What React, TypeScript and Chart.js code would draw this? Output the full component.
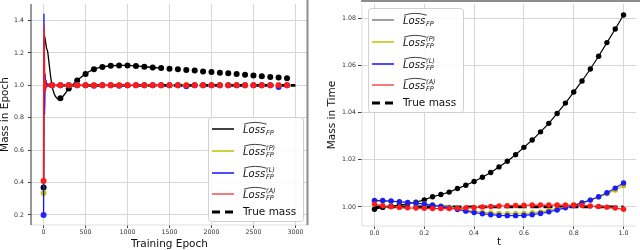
import React, { useEffect, useRef } from "react";
import { Chart, registerables } from "chart.js";
Chart.register(...registerables);

const FONT = '"DejaVu Sans", sans-serif';

// ---------- Left chart: mass vs training epoch ----------
const EPOCH_TICKS = [0, 500, 1000, 1500, 2000, 2500, 3000];
const MASS_EPOCH_TICKS = [0.2, 0.4, 0.6, 0.8, 1.0, 1.2, 1.4];
const MARKER_EPOCHS = [0, 100, 200, 300, 400, 500, 600, 700, 800, 900, 1000, 1100, 1200, 1300, 1400, 1500, 1600, 1700, 1800, 1900, 2000, 2100, 2200, 2300, 2400, 2500, 2600, 2700, 2800, 2900];
const FP_MARKERS = [0.37, 1.0, 0.92, 0.98, 1.03, 1.07, 1.1, 1.113, 1.121, 1.123, 1.123, 1.12, 1.115, 1.11, 1.107, 1.103, 1.099, 1.095, 1.091, 1.086, 1.082, 1.078, 1.074, 1.07, 1.066, 1.06, 1.056, 1.052, 1.048, 1.044];
const FP_P_MARKERS = [0.335, 1.0, 1.0, 1.0, 1.0, 1.0, 1.0, 1.0, 1.0, 1.0, 1.0, 1.0, 1.0, 1.0, 1.0, 1.0, 1.0, 1.0, 1.0, 1.0, 1.0, 1.0, 1.0, 1.0, 1.0, 1.0, 1.0, 1.0, 1.0, 1.0];
const FP_L_MARKERS = [0.2, 1.0, 1.0, 1.0, 1.0, 1.0, 0.997, 1.0, 1.0, 0.997, 1.0, 1.0, 1.0, 1.0, 1.0, 1.0, 1.0, 0.995, 1.0, 1.0, 1.0, 1.0, 1.0, 1.0, 1.0, 1.0, 1.0, 1.0, 0.99, 1.0];
const FP_A_MARKERS = [0.41, 1.0, 1.0, 1.0, 1.0, 1.0, 1.0, 1.0, 1.0, 1.0, 1.0, 1.0, 1.0, 1.0, 1.0, 1.0, 1.0, 1.0, 1.0, 1.0, 1.0, 1.0, 1.0, 1.0, 1.0, 1.0, 1.0, 1.0, 1.0, 1.0];
const FP_LINE = [[0, 0.37], [8, 1.31], [20, 1.28], [35, 1.23], [48, 1.21], [60, 1.16], [80, 1.07], [100, 1.0], [125, 0.95], [150, 0.925], [180, 0.913], [210, 0.92], [250, 0.945], [300, 0.98], [350, 1.005], [400, 1.03], [450, 1.052], [500, 1.07], [550, 1.087], [600, 1.1], [700, 1.113], [800, 1.121], [900, 1.123], [1000, 1.123], [1100, 1.12], [1200, 1.115], [1300, 1.11], [1400, 1.107]];
const FP_P_LINE = [[0, 0.335], [5, 1.3], [10, 1.05], [18, 0.97], [28, 1.01], [45, 1.0], [1400, 1.0]];
const FP_L_LINE = [[0, 0.2], [4, 1.44], [8, 1.0], [13, 0.82], [19, 1.07], [25, 0.97], [31, 1.03], [38, 0.99], [48, 1.01], [65, 1.0], [1400, 1.0]];
const FP_A_LINE = [[0, 0.41], [5, 1.37], [10, 1.1], [15, 0.96], [22, 1.03], [30, 0.99], [42, 1.0], [1400, 1.0]];
const TRUE_MASS_EPOCH = [[0, 1.0], [3000, 1.0]];

// ---------- Right chart: mass vs time ----------
const T_TICKS = [0, 0.2, 0.4, 0.6, 0.8, 1.0];
const MASS_TIME_TICKS = [1.0, 1.02, 1.04, 1.06, 1.08];
const T_VALUES = [0, 0.0333, 0.0667, 0.1, 0.1333, 0.1667, 0.2, 0.2333, 0.2667, 0.3, 0.3333, 0.3667, 0.4, 0.4333, 0.4667, 0.5, 0.5333, 0.5667, 0.6, 0.6333, 0.6667, 0.7, 0.7333, 0.7667, 0.8, 0.8333, 0.8667, 0.9, 0.9333, 0.9667, 1.0];
const T_FP = [0.999, 0.9998, 1.0003, 1.0008, 1.0013, 1.002, 1.003, 1.0043, 1.0053, 1.0063, 1.0078, 1.0092, 1.0108, 1.0126, 1.0146, 1.017, 1.0194, 1.0222, 1.0253, 1.0284, 1.0319, 1.0355, 1.0397, 1.0441, 1.0488, 1.0535, 1.0586, 1.064, 1.0698, 1.0756, 1.0815];
const T_FP_P = [1.0024, 1.0024, 1.0023, 1.0021, 1.0019, 1.0016, 1.0013, 1.0009, 1.0004, 0.9999, 0.9993, 0.9987, 0.9982, 0.9977, 0.9974, 0.9972, 0.9971, 0.9971, 0.9972, 0.9975, 0.9979, 0.9985, 0.9992, 1.0, 1.0009, 1.0019, 1.003, 1.0042, 1.0056, 1.0072, 1.0091];
const T_FP_L = [1.0028, 1.0027, 1.0025, 1.0022, 1.0019, 1.0016, 1.0012, 1.0007, 1.0002, 0.9996, 0.9989, 0.9982, 0.9976, 0.9971, 0.9967, 0.9964, 0.9963, 0.9963, 0.9964, 0.9967, 0.9972, 0.9979, 0.9987, 0.9996, 1.0006, 1.0017, 1.0029, 1.0043, 1.006, 1.008, 1.0102];
const T_FP_A = [1.0012, 1.0005, 1.0001, 0.9998, 0.9996, 0.9995, 0.9994, 0.9993, 0.9993, 0.9993, 0.9994, 0.9996, 0.9998, 1.0, 1.0002, 1.0004, 1.0005, 1.0006, 1.0007, 1.0008, 1.0008, 1.0008, 1.0008, 1.0008, 1.0007, 1.0006, 1.0004, 1.0002, 0.9999, 0.9995, 0.999];
const T_TRUE = [1.0, 1.0, 1.0, 1.0, 1.0, 1.0, 1.0, 1.0, 1.0, 1.0, 1.0, 1.0, 1.0, 1.0, 1.0, 1.0, 1.0, 1.0, 1.0, 1.0, 1.0, 1.0, 1.0, 1.0, 1.0, 1.0, 1.0, 1.0, 1.0, 1.0, 1.0];

const LEGEND_SUPS = ["", "(P)", "(L)", "(A)"];

const C_BLACK = "#000000";
const C_YELLOW = "#bfbf00";
const C_BLUE = "#1010ff";
const C_RED = "#ff1a1a";
const GRID = "#d6d6d6";

const pairs = (arr: number[][]) => arr.map(([x, y]) => ({ x, y }));
const zip = (xs: number[], ys: number[]) => xs.map((x, i) => ({ x, y: ys[i] }));

function drawLossLabel(ctx: CanvasRenderingContext2D, x: number, base: number, sup: string) {
  ctx.fillStyle = "#111";
  ctx.textAlign = "left";
  ctx.textBaseline = "alphabetic";
  ctx.font = `italic 10px ${FONT}`;
  ctx.fillText("Loss", x, base);
  const w = ctx.measureText("Loss").width;
  ctx.strokeStyle = "#111";
  ctx.lineWidth = 0.8;
  ctx.setLineDash([]);
  ctx.beginPath();
  ctx.moveTo(x + 1, base - 8.3);
  ctx.quadraticCurveTo(x + w / 2 + 1, base - 12, x + w + 1.5, base - 8.3);
  ctx.stroke();
  ctx.font = `italic 6.5px ${FONT}`;
  ctx.fillText("FP", x + w + 1, base + 2.5);
  if (sup) ctx.fillText(sup, x + w + 1, base - 5);
}

function drawLegend(ctx: CanvasRenderingContext2D, x0: number, y0: number, firstColor: string) {
  const w = 95, h = 104;
  ctx.save();
  ctx.fillStyle = "rgba(255,255,255,0.85)";
  ctx.strokeStyle = "#d0d0d0";
  ctx.lineWidth = 1;
  ctx.beginPath();
  (ctx as any).roundRect(x0 + 0.5, y0 + 0.5, w, h, 3);
  ctx.fill();
  ctx.stroke();
  const rows = [12, 34, 56, 77, 95];
  const colors = [firstColor, C_YELLOW, C_BLUE, "#f05050"];
  for (let i = 0; i < 4; i++) {
    const ry = y0 + rows[i];
    ctx.strokeStyle = colors[i];
    ctx.lineWidth = 1.5;
    ctx.setLineDash([]);
    ctx.beginPath();
    ctx.moveTo(x0 + 4, ry);
    ctx.lineTo(x0 + 26, ry);
    ctx.stroke();
    drawLossLabel(ctx, x0 + 35, ry + 3.5, LEGEND_SUPS[i]);
  }
  const ry = y0 + rows[4];
  ctx.strokeStyle = "#000";
  ctx.lineWidth = 3;
  ctx.setLineDash([8, 5]);
  ctx.beginPath();
  ctx.moveTo(x0 + 4, ry);
  ctx.lineTo(x0 + 26, ry);
  ctx.stroke();
  ctx.setLineDash([]);
  ctx.fillStyle = "#111";
  ctx.font = `10.5px ${FONT}`;
  ctx.textBaseline = "middle";
  ctx.fillText("True mass", x0 + 35, ry);
  ctx.restore();
}

const fixTicks = (vals: number[]) => (s: any) => {
  s.ticks = vals.map((v) => ({ value: v }));
};

function axisOpts(o: {
  min: number; max: number; ticks: number[]; fmt: (v: number) => string;
  size: number; horizontal: boolean; title: string; titlePad: any; tickPad: number; tickLen: number;
}) {
  return {
    type: "linear" as const,
    min: o.min,
    max: o.max,
    afterBuildTicks: fixTicks(o.ticks),
    afterFit: (s: any) => {
      if (o.horizontal) s.height = o.size; else s.width = o.size;
      s.paddingTop = 0; s.paddingBottom = 0; s.paddingLeft = 0; s.paddingRight = 0;
    },
    border: { display: false },
    grid: { color: GRID, lineWidth: 1, tickColor: "#444", tickLength: o.tickLen, drawTicks: true },
    ticks: {
      autoSkip: false, maxRotation: 0, padding: o.tickPad, color: "#333",
      font: { family: FONT, size: 6.3 },
      callback: (v: any) => o.fmt(Number(v)),
    },
    title: {
      display: true, text: o.title, color: "#111", padding: o.titlePad,
      font: { family: FONT, size: 10.5, lineHeight: 1 },
    },
  };
}

function LeftChart() {
  const ref = useRef<HTMLCanvasElement>(null);
  useEffect(() => {
    const decor = {
      id: "decorLeft",
      afterDraw(chart: any) {
        const { ctx, chartArea: a } = chart;
        ctx.save();
        ctx.fillStyle = "#e0e0e0";
        ctx.fillRect(a.left, a.bottom - 0.5, a.right - a.left, 1);
        ctx.fillStyle = "#333";
        ctx.fillRect(a.left - 0.5, a.top, 1, a.bottom - a.top);
        ctx.fillStyle = "#8c8c8c";
        ctx.fillRect(a.right - 1.5, 0, 2, a.bottom);
        ctx.restore();
        drawLegend(ctx, a.right - 100, a.bottom - 108, C_BLACK);
      },
    };
    const lineDs = (data: number[][], color: string, order: number, w = 1.3) => ({
      data: pairs(data), borderColor: color, borderWidth: w, pointRadius: 0, fill: false, order,
      cubicInterpolationMode: "monotone" as const,
    });
    const markDs = (ys: number[], color: string, order: number) => ({
      data: zip(MARKER_EPOCHS, ys), showLine: false, pointRadius: 3, pointBorderWidth: 0,
      pointBackgroundColor: color, borderColor: color, order,
    });
    const chart = new Chart(ref.current!, {
      type: "line",
      data: {
        datasets: [
          { data: pairs(TRUE_MASS_EPOCH), borderColor: "#000", borderWidth: 2.6, borderDash: [9, 4], pointRadius: 0, order: 10 },
          lineDs(FP_LINE, C_BLACK, 9),
          markDs(FP_MARKERS, C_BLACK, 8),
          lineDs(FP_P_LINE, C_YELLOW, 7),
          markDs(FP_P_MARKERS, "#c8c800", 6),
          lineDs(FP_L_LINE, C_BLUE, 5),
          markDs(FP_L_MARKERS, "#2424ff", 4),
          lineDs(FP_A_LINE, C_RED, 3, 1.6),
          markDs(FP_A_MARKERS, C_RED, 2),
        ] as any,
      },
      options: {
        animation: false,
        responsive: false,
        devicePixelRatio: 1,
        layout: { padding: { left: 0, right: 12, top: 2, bottom: 0 } },
        plugins: { legend: { display: false }, tooltip: { enabled: false } },
        scales: {
          x: axisOpts({ min: -150, max: 3150, ticks: EPOCH_TICKS, fmt: (v) => String(v), size: 25, horizontal: true, title: "Training Epoch", titlePad: { top: 0, bottom: 0 }, tickPad: 1, tickLen: 3 }),
          y: axisOpts({ min: 0.138, max: 1.502, ticks: MASS_EPOCH_TICKS, fmt: (v) => v.toFixed(1), size: 31, horizontal: false, title: "Mass in Epoch", titlePad: { top: 0, bottom: 0 }, tickPad: 4, tickLen: 3 }),
        } as any,
      },
      plugins: [decor],
    });
    return () => chart.destroy();
  }, []);
  return <canvas ref={ref} width={320} height={250} style={{ position: "absolute", left: 0, top: 0, width: 320, height: 250 }} />;
}

function RightChart() {
  const ref = useRef<HTMLCanvasElement>(null);
  useEffect(() => {
    const decor = {
      id: "decorRight",
      afterDraw(chart: any) {
        const { ctx, chartArea: a } = chart;
        ctx.save();
        ctx.fillStyle = "#e0e0e0";
        ctx.fillRect(a.left, a.bottom - 0.5, a.right - a.left, 1);
        ctx.fillRect(a.left - 0.5, a.top, 1, a.bottom - a.top);
        ctx.fillStyle = "#8c8c8c";
        ctx.fillRect(a.left - 1, 0, 320, 2);
        ctx.restore();
        drawLegend(ctx, a.left + 6, a.top + 4, "#808080");
      },
    };
    const ds = (ys: number[], color: string, order: number) => ({
      data: zip(T_VALUES, ys), borderColor: color, borderWidth: 1.2, pointRadius: 2.7, pointBorderWidth: 0,
      pointBackgroundColor: color, fill: false, order,
    });
    const chart = new Chart(ref.current!, {
      type: "line",
      data: {
        datasets: [
          { data: zip(T_VALUES, T_TRUE), borderColor: "#000", borderWidth: 2.8, borderDash: [9, 4], pointRadius: 0, order: 10 },
          ds(T_FP, C_BLACK, 6),
          ds(T_FP_P, C_YELLOW, 5),
          ds(T_FP_L, "#1a1aff", 4),
          ds(T_FP_A, C_RED, 3),
        ] as any,
      },
      options: {
        animation: false,
        responsive: false,
        devicePixelRatio: 1,
        layout: { padding: { left: 0, right: 1, top: 1, bottom: 0 } },
        plugins: { legend: { display: false }, tooltip: { enabled: false } },
        scales: {
          x: axisOpts({ min: -0.05, max: 1.05, ticks: T_TICKS, fmt: (v) => v.toFixed(1), size: 24, horizontal: true, title: "t", titlePad: { top: 0, bottom: 2 }, tickPad: 1, tickLen: 3 }),
          y: axisOpts({ min: 0.9919, max: 1.0862, ticks: MASS_TIME_TICKS, fmt: (v) => v.toFixed(2), size: 42, horizontal: false, title: "Mass in Time", titlePad: { top: 7, bottom: 0 }, tickPad: 2, tickLen: 4 }),
        } as any,
      },
      plugins: [decor],
    });
    return () => chart.destroy();
  }, []);
  return <canvas ref={ref} width={320} height={250} style={{ position: "absolute", left: 320, top: 0, width: 320, height: 250 }} />;
}

export default function App() {
  return (
    <div style={{ position: "fixed", left: 0, top: 0, width: 640, height: 250, background: "#fff", overflow: "hidden" }}>
      <LeftChart />
      <RightChart />
    </div>
  );
}
